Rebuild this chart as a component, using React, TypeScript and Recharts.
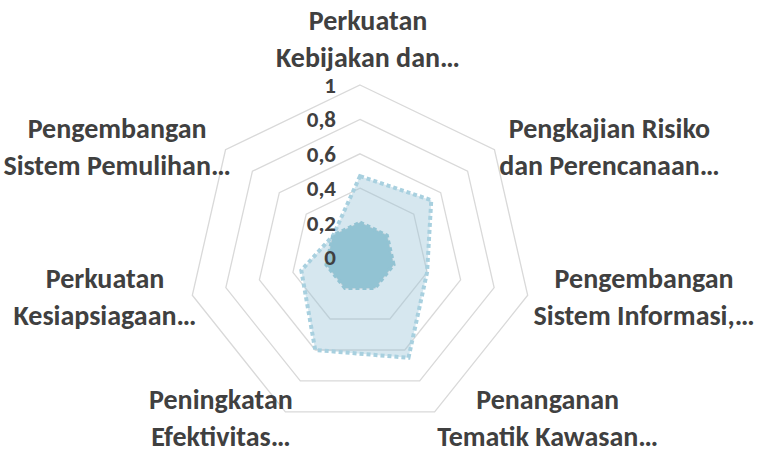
import { RadarChart, Radar, PolarGrid, PolarAngleAxis, PolarRadiusAxis } from "recharts";

const categories = [
  "Perkuatan\nKebijakan dan…",
  "Pengkajian Risiko\ndan Perencanaan…",
  "Pengembangan\nSistem Informasi,…",
  "Penanganan\nTematik Kawasan…",
  "Peningkatan\nEfektivitas…",
  "Perkuatan\nKesiapsiagaan…",
  "Pengembangan\nSistem Pemulihan…",
];
const outerValues = [0.47, 0.53, 0.4, 0.65, 0.6, 0.35, 0.2];
const innerValues = [0.2, 0.2, 0.2, 0.2, 0.2, 0.2, 0.2];
const radiusTicks = [0, 0.2, 0.4, 0.6, 0.8, 1];

const data = categories.map((name, i) => ({
  name,
  outer: outerValues[i],
  inner: innerValues[i],
}));

const FONT = "Carlito, Lato, 'Open Sans', sans-serif";
const LABEL_SIZE = 28;
const LINE_H = 37;
const TEXT = "#404040";

let ctx: CanvasRenderingContext2D | null = null;
function textWidth(s: string) {
  if (!ctx) ctx = document.createElement("canvas").getContext("2d");
  if (!ctx) return s.length * LABEL_SIZE * 0.5;
  ctx.font = `bold ${LABEL_SIZE}px ${FONT}`;
  return ctx.measureText(s).width;
}

function AngleTick(props: any) {
  const { cx, cy, radius, payload } = props;
  const lines = String(payload.value).split("\n");
  const a = (payload.coordinate * Math.PI) / 180;
  const cos = Math.cos(a);
  const sin = Math.sin(a);
  const r = radius + 6;
  const px = cx + r * cos;
  const py = cy - r * sin;
  const w = Math.max(...lines.map(textWidth));
  const blockH = lines.length * LINE_H;
  let bx = px;
  let by = py;
  if (Math.abs(cos) < 0.1) {
    // top / bottom: sit the block above or below the point
    by = sin > 0 ? py - blockH / 2 - 4 : py + blockH / 2;
    bx = px + 8;
  } else {
    bx = cos > 0 ? px + w / 2 : px - w / 2 + 10;
  }
  const top = by - blockH / 2 + LINE_H / 2;
  return (
    <text
      textAnchor="middle"
      dominantBaseline="central"
      fontFamily={FONT}
      fontWeight="bold"
      fontSize={LABEL_SIZE}
      fill={TEXT}
    >
      {lines.map((l, i) => (
        <tspan key={i} x={bx} y={top + i * LINE_H}>
          {l}
        </tspan>
      ))}
    </text>
  );
}

function RadiusTick(props: any) {
  const { x, y, payload } = props;
  return (
    <text
      x={x - 24}
      y={y}
      textAnchor="end"
      dominantBaseline="central"
      fontFamily={FONT}
      fontWeight="bold"
      fontSize={23}
      fill={TEXT}
    >
      {String(payload.value).replace(".", ",")}
    </text>
  );
}

export default function App() {
  return (
    <div style={{ position: "absolute", left: 0, top: 0, background: "#fff" }}>
      <RadarChart
        width={762}
        height={450}
        data={data}
        cx={360}
        cy={257}
        outerRadius={172}
        margin={{ top: 0, right: 0, bottom: 0, left: 0 }}
      >
        <PolarGrid gridType="polygon" radialLines={false} stroke="#d9d9d9" strokeWidth={1.3} />
        <PolarAngleAxis dataKey="name" tick={<AngleTick />} tickLine={false} axisLine={false} />
        <PolarRadiusAxis
          angle={90}
          domain={[0, 1]}
          ticks={radiusTicks}
          axisLine={false}
          tickLine={false}
          tick={<RadiusTick />}
        />
        <Radar
          dataKey="outer"
          stroke="#a8d0df"
          strokeWidth={4}
          strokeDasharray="4 3"
          fill="#98c3d7"
          fillOpacity={0.4}
          isAnimationActive={false}
        />
        <Radar
          dataKey="inner"
          stroke="#92c3d3"
          strokeWidth={4}
          strokeDasharray="4 3"
          fill="#92c3d3"
          fillOpacity={1}
          isAnimationActive={false}
        />
      </RadarChart>
    </div>
  );
}
